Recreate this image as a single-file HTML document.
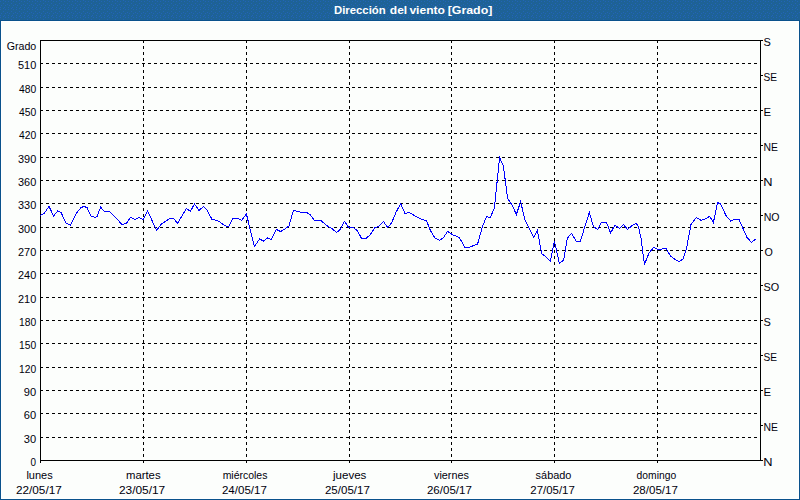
<!DOCTYPE html>
<html><head><meta charset="utf-8"><title>Direcci&oacute;n del viento</title>
<style>
html,body{margin:0;padding:0;background:#fcfefc;}
body{width:800px;height:500px;overflow:hidden;font-family:"Liberation Sans",sans-serif;}
svg{display:block}
text{font-family:"Liberation Sans",sans-serif;font-size:11px;fill:#00000c}
.b{font-weight:bold;fill:#ffffff}
</style></head><body>
<svg width="800" height="500" viewBox="0 0 800 500">
<rect x="0" y="0" width="800" height="500" fill="#fcfefc"/>
<g shape-rendering="crispEdges">
<rect x="0" y="0" width="800" height="500" fill="#0a528c"/>
<rect x="1" y="21" width="798" height="478" fill="#ffffff"/>
<rect x="2" y="22" width="796" height="476" fill="#fcfefc"/>
<defs><pattern id="dz" width="8" height="8" patternUnits="userSpaceOnUse"><rect width="8" height="8" fill="#1e6296"/><g fill="#2264b8"><rect x="3" y="0" width="1" height="1"/><rect x="0" y="1" width="1" height="1"/><rect x="5" y="1" width="1" height="1"/><rect x="3" y="3" width="1" height="1"/><rect x="7" y="4" width="1" height="1"/><rect x="1" y="5" width="1" height="1"/><rect x="5" y="5" width="1" height="1"/><rect x="0" y="7" width="1" height="1"/><rect x="4" y="7" width="1" height="1"/></g></pattern></defs>
<rect x="0" y="0" width="800" height="20" fill="#1e6297"/>
<rect x="0" y="0" width="800" height="20" fill="url(#dz)"/>

<g stroke="#000" stroke-width="1" stroke-dasharray="3 3" fill="none">
<line x1="40" y1="437.5" x2="760" y2="437.5"/>
<line x1="40" y1="413.5" x2="760" y2="413.5"/>
<line x1="40" y1="390.5" x2="760" y2="390.5"/>
<line x1="40" y1="367.5" x2="760" y2="367.5"/>
<line x1="40" y1="343.5" x2="760" y2="343.5"/>
<line x1="40" y1="320.5" x2="760" y2="320.5"/>
<line x1="40" y1="297.5" x2="760" y2="297.5"/>
<line x1="40" y1="273.5" x2="760" y2="273.5"/>
<line x1="40" y1="250.5" x2="760" y2="250.5"/>
<line x1="40" y1="227.5" x2="760" y2="227.5"/>
<line x1="40" y1="203.5" x2="760" y2="203.5"/>
<line x1="40" y1="180.5" x2="760" y2="180.5"/>
<line x1="40" y1="157.5" x2="760" y2="157.5"/>
<line x1="40" y1="133.5" x2="760" y2="133.5"/>
<line x1="40" y1="110.5" x2="760" y2="110.5"/>
<line x1="40" y1="87.5" x2="760" y2="87.5"/>
<line x1="40" y1="63.5" x2="760" y2="63.5"/>
<line x1="143.5" y1="40" x2="143.5" y2="460"/>
<line x1="246.5" y1="40" x2="246.5" y2="460"/>
<line x1="349.5" y1="40" x2="349.5" y2="460"/>
<line x1="451.5" y1="40" x2="451.5" y2="460"/>
<line x1="554.5" y1="40" x2="554.5" y2="460"/>
<line x1="657.5" y1="40" x2="657.5" y2="460"/>
</g>
<g stroke="#000" stroke-width="1" fill="none">
<rect x="40.5" y="40.5" width="720" height="420"/>
<line x1="40.5" y1="460" x2="40.5" y2="463"/>
<line x1="143.5" y1="460" x2="143.5" y2="463"/>
<line x1="246.5" y1="460" x2="246.5" y2="463"/>
<line x1="349.5" y1="460" x2="349.5" y2="463"/>
<line x1="451.5" y1="460" x2="451.5" y2="463"/>
<line x1="554.5" y1="460" x2="554.5" y2="463"/>
<line x1="657.5" y1="460" x2="657.5" y2="463"/>
<line x1="760" y1="40.5" x2="763" y2="40.5"/>
<line x1="760" y1="75.5" x2="763" y2="75.5"/>
<line x1="760" y1="110.5" x2="763" y2="110.5"/>
<line x1="760" y1="145.5" x2="763" y2="145.5"/>
<line x1="760" y1="180.5" x2="763" y2="180.5"/>
<line x1="760" y1="215.5" x2="763" y2="215.5"/>
<line x1="760" y1="250.5" x2="763" y2="250.5"/>
<line x1="760" y1="285.5" x2="763" y2="285.5"/>
<line x1="760" y1="320.5" x2="763" y2="320.5"/>
<line x1="760" y1="355.5" x2="763" y2="355.5"/>
<line x1="760" y1="390.5" x2="763" y2="390.5"/>
<line x1="760" y1="425.5" x2="763" y2="425.5"/>
<line x1="760" y1="460.5" x2="763" y2="460.5"/>
</g>
<polyline points="40.0,215.6 44.0,213.6 49.0,206.4 53.6,216.0 57.6,211.0 61.0,212.4 66.0,223.0 70.4,225.4 77.0,212.4 81.0,207.6 84.0,206.4 87.0,207.6 91.0,216.0 95.0,217.4 97.0,216.6 100.6,207.2 104.0,211.0 109.0,211.0 114.0,216.0 122.0,224.4 126.4,223.6 130.4,217.4 135.0,219.4 139.0,217.4 143.4,219.6 147.6,211.0 156.6,230.4 161.0,224.4 170.0,218.4 173.6,218.4 177.6,223.4 186.4,208.4 190.4,211.4 194.4,204.0 199.0,210.4 203.6,206.4 207.0,210.0 212.0,219.4 217.6,220.6 225.0,225.6 228.6,227.0 233.0,218.4 238.0,218.4 241.6,220.4 246.4,214.0 254.4,246.4 259.6,239.0 263.4,241.0 267.6,238.0 271.4,239.4 276.4,229.4 280.6,231.6 285.0,229.0 289.0,226.0 293.4,210.4 298.0,211.4 302.0,212.4 306.6,212.4 310.0,214.4 314.4,220.4 321.0,220.6 328.0,226.4 332.4,229.0 336.6,232.4 340.4,229.4 344.4,221.4 348.4,227.0 353.0,227.4 357.0,230.4 361.6,238.4 366.0,238.4 370.0,235.0 375.0,227.6 378.4,226.4 383.4,221.4 387.6,227.4 391.6,223.0 396.0,212.4 400.6,203.6 405.0,213.4 409.0,212.4 413.4,215.0 422.0,219.4 426.4,220.6 430.6,231.0 435.0,238.0 439.4,240.4 443.4,237.6 447.6,231.4 452.0,234.4 459.4,237.6 465.0,247.4 469.0,247.4 477.6,244.0 482.0,228.0 486.4,216.6 490.4,217.4 494.4,208.0 499.6,157.4 503.4,166.0 507.6,198.4 512.0,205.0 516.4,214.4 520.6,201.6 525.0,220.0 533.6,237.4 537.4,230.6 541.6,253.6 546.0,257.0 550.4,261.4 554.4,240.8 559.4,263.4 563.6,260.0 567.4,238.0 571.6,233.4 576.4,241.4 580.4,241.4 585.0,226.0 589.4,212.4 593.4,226.6 597.6,229.4 601.6,222.0 606.4,222.0 610.6,233.0 615.0,225.0 619.4,228.4 623.4,224.6 627.6,229.4 632.0,225.6 636.4,223.4 638.4,226.6 641.0,238.0 644.4,264.4 649.0,253.0 653.6,247.4 658.0,249.6 666.0,248.4 670.4,256.0 675.0,259.4 679.0,261.6 683.0,259.0 686.4,249.0 691.0,224.4 696.4,217.4 701.0,220.4 705.0,219.0 709.6,216.4 713.4,222.4 717.6,202.6 720.6,204.0 726.0,215.6 730.6,221.0 734.4,219.4 739.0,219.4 747.0,237.4 751.4,242.4 755.6,239.0" fill="none" stroke="#0000ff" stroke-width="1"/>
</g>
<text class="b" transform="translate(333.97 14) scale(1.033 1)">Dirección</text>
<text class="b" transform="translate(389.80 14) scale(1.093 1)">del</text>
<text class="b" transform="translate(409.40 14) scale(1.100 1)">viento</text>
<text class="b" transform="translate(447.67 14) scale(1.126 1)">[Grado]</text>
<text transform="translate(6.63 50) scale(0.969 1)">Grado</text>
<text transform="translate(30.50 466) scale(0.900 1)">0</text>
<text transform="translate(23.79 443) scale(1.009 1)">30</text>
<text transform="translate(23.79 419) scale(1.009 1)">60</text>
<text transform="translate(23.79 396) scale(1.009 1)">90</text>
<text transform="translate(19.06 373) scale(0.935 1)">120</text>
<text transform="translate(19.06 349) scale(0.935 1)">150</text>
<text transform="translate(19.06 326) scale(0.935 1)">180</text>
<text transform="translate(18.01 303) scale(0.994 1)">210</text>
<text transform="translate(18.01 279) scale(0.994 1)">240</text>
<text transform="translate(18.01 256) scale(0.994 1)">270</text>
<text transform="translate(18.01 233) scale(0.994 1)">300</text>
<text transform="translate(18.01 209) scale(0.994 1)">330</text>
<text transform="translate(18.01 186) scale(0.994 1)">360</text>
<text transform="translate(18.01 163) scale(0.994 1)">390</text>
<text transform="translate(19.00 139) scale(0.939 1)">420</text>
<text transform="translate(19.00 116) scale(0.939 1)">450</text>
<text transform="translate(19.00 93) scale(0.939 1)">480</text>
<text transform="translate(18.01 69) scale(0.994 1)">510</text>
<text transform="translate(763.40 46) scale(1.000 1)">S</text>
<text transform="translate(763.48 81) scale(0.923 1)">SE</text>
<text transform="translate(763.57 116) scale(1.033 1)">E</text>
<text transform="translate(763.46 151) scale(0.943 1)">NE</text>
<text transform="translate(763.33 186) scale(1.167 1)">N</text>
<text transform="translate(763.64 221) scale(0.960 1)">NO</text>
<text transform="translate(764.60 256) scale(0.975 1)">O</text>
<text transform="translate(763.61 291) scale(0.986 1)">SO</text>
<text transform="translate(763.40 326) scale(1.000 1)">S</text>
<text transform="translate(763.48 361) scale(0.923 1)">SE</text>
<text transform="translate(763.57 396) scale(1.033 1)">E</text>
<text transform="translate(763.46 431) scale(0.943 1)">NE</text>
<text transform="translate(763.33 466) scale(1.167 1)">N</text>
<text transform="translate(26.40 479) scale(1.000 1)">lunes</text>
<text transform="translate(15.93 494) scale(1.073 1)">22/05/17</text>
<text transform="translate(125.97 479) scale(1.031 1)">martes</text>
<text transform="translate(118.92 494) scale(1.083 1)">23/05/17</text>
<text transform="translate(222.65 479) scale(0.952 1)">miércoles</text>
<text transform="translate(221.95 494) scale(1.049 1)">24/05/17</text>
<text transform="translate(333.00 479) scale(1.052 1)">jueves</text>
<text transform="translate(324.95 494) scale(1.049 1)">25/05/17</text>
<text transform="translate(434.00 479) scale(0.983 1)">viernes</text>
<text transform="translate(426.95 494) scale(1.049 1)">26/05/17</text>
<text transform="translate(535.61 479) scale(0.994 1)">sábado</text>
<text transform="translate(530.36 494) scale(1.039 1)">27/05/17</text>
<text transform="translate(636.60 479) scale(0.938 1)">domingo</text>
<text transform="translate(632.95 494) scale(1.049 1)">28/05/17</text>
</svg></body></html>
